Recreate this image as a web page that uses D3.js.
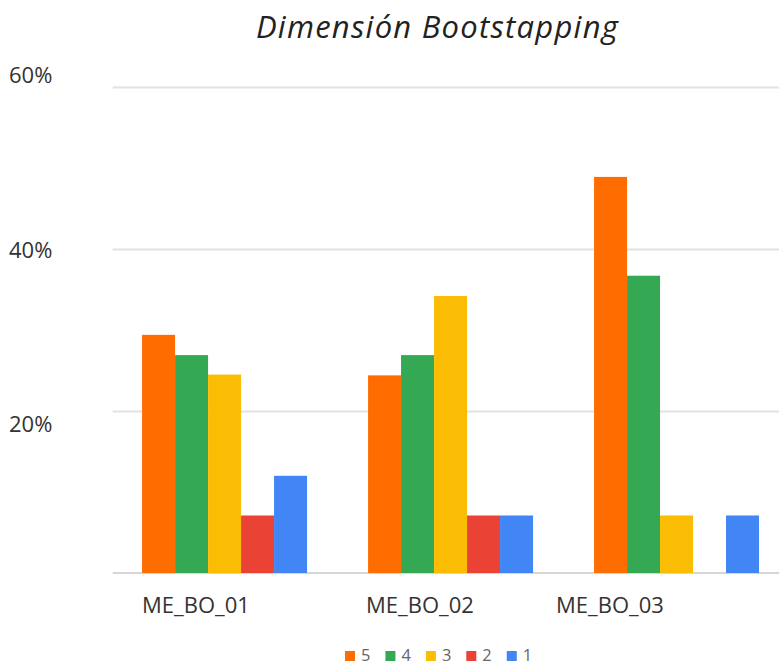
<!DOCTYPE html>
<html>
<head>
<meta charset="utf-8">
<script src="https://cdn.jsdelivr.net/npm/d3@7"></script>
<style>
  html, body { margin: 0; padding: 0; background: #fff; }
  svg { display: block; font-family: "Open Sans", "Segoe UI", sans-serif; }
</style>
</head>
<body>
<svg id="chart" width="779" height="665"></svg>
<script>
// Response shares (%) per item, one array per rating level
const categories = ["ME_BO_01", "ME_BO_02", "ME_BO_03"];
const seriesNames = ["5", "4", "3", "2", "1"];
const values5 = [29.4, 24.4, 48.9];
const values4 = [26.9, 26.9, 36.7];
const values3 = [24.5, 34.2, 7.1];
const values2 = [7.1, 7.1, 0];
const values1 = [12.0, 7.1, 7.1];
const yTickValues = [20, 40, 60];
const yTickLabels = ["20%", "40%", "60%"];
const title = "Dimensión Bootstapping";

const seriesValues = [values5, values4, values3, values2, values1];
const colors = ["#ff6d01", "#34a853", "#fbbc04", "#ea4335", "#4285f4"];

const svg = d3.select("#chart");
const W = 779;

const plotLeft = 112.7, plotRight = 788.4;
const y = d3.scaleLinear().domain([0, 60]).range([573, 87]);
const x0 = d3.scaleBand().domain(categories).range([plotLeft, plotRight])
  .paddingInner(0.27).paddingOuter(0.13);
const x1 = d3.scaleBand().domain(seriesNames).range([0, x0.bandwidth()]);

// Gridlines
const grid = d3.axisLeft(y).tickValues(yTickValues).tickSize(-(W - plotLeft)).tickFormat("");
svg.append("g")
  .attr("transform", `translate(${plotLeft},0)`)
  .call(grid)
  .call(g => g.select(".domain").remove())
  .call(g => g.selectAll("line").attr("stroke", "#e2e2e2").attr("stroke-width", 2));

// Baseline
svg.append("line")
  .attr("x1", plotLeft).attr("x2", W)
  .attr("y1", y(0)).attr("y2", y(0))
  .attr("stroke", "#d6d6d6").attr("stroke-width", 2);

// Y tick labels
const tickDy = { 20: 21, 40: 9, 60: -4 };
svg.append("g").selectAll("text")
  .data(yTickValues)
  .join("text")
  .attr("x", 9)
  .attr("y", d => y(d) + tickDy[d])
  .attr("font-size", 22)
  .attr("fill", "#333")
  .text((d, i) => yTickLabels[i]);

// Bars
const rows = categories.map((c, ci) => ({
  cat: c,
  items: seriesNames.map((s, si) => ({ s, si, v: seriesValues[si][ci] }))
}));
svg.append("g").selectAll("g")
  .data(rows)
  .join("g")
  .attr("transform", d => `translate(${x0(d.cat)},0)`)
  .selectAll("rect")
  .data(d => d.items.filter(e => e.v > 0))
  .join("rect")
  .attr("x", d => x1(d.s))
  .attr("width", x1.bandwidth())
  .attr("y", d => y(d.v))
  .attr("height", d => y(0) - y(d.v))
  .attr("fill", d => colors[d.si]);

// Category labels
const labelShift = { "ME_BO_01": 0, "ME_BO_02": -2, "ME_BO_03": -38 };
svg.append("g").selectAll("text")
  .data(categories)
  .join("text")
  .attr("x", d => x0(d) + labelShift[d])
  .attr("y", 613)
  .attr("font-size", 22)
  .attr("fill", "#333")
  .text(d => d);

// Title, spaced out to span its full width
const titleText = svg.append("text")
  .attr("x", 437.5)
  .attr("y", 38)
  .attr("text-anchor", "middle")
  .attr("font-size", 31)
  .attr("font-style", "italic")
  .attr("fill", "#222")
  .text(title);
const titleW = titleText.node().getComputedTextLength();
titleText.attr("letter-spacing", Math.max(0, (362 - titleW) / (title.length - 1)));

// Legend
const legend = svg.append("g");
let lx = 345;
seriesNames.forEach((s, i) => {
  legend.append("rect")
    .attr("x", lx).attr("y", 651)
    .attr("width", 10).attr("height", 10)
    .attr("fill", colors[i]);
  const t = legend.append("text")
    .attr("x", lx + 16).attr("y", 660.5)
    .attr("font-size", 16.5)
    .attr("fill", "#666")
    .text(s);
  lx += 16 + t.node().getComputedTextLength() + 15;
});
</script>
</body>
</html>
